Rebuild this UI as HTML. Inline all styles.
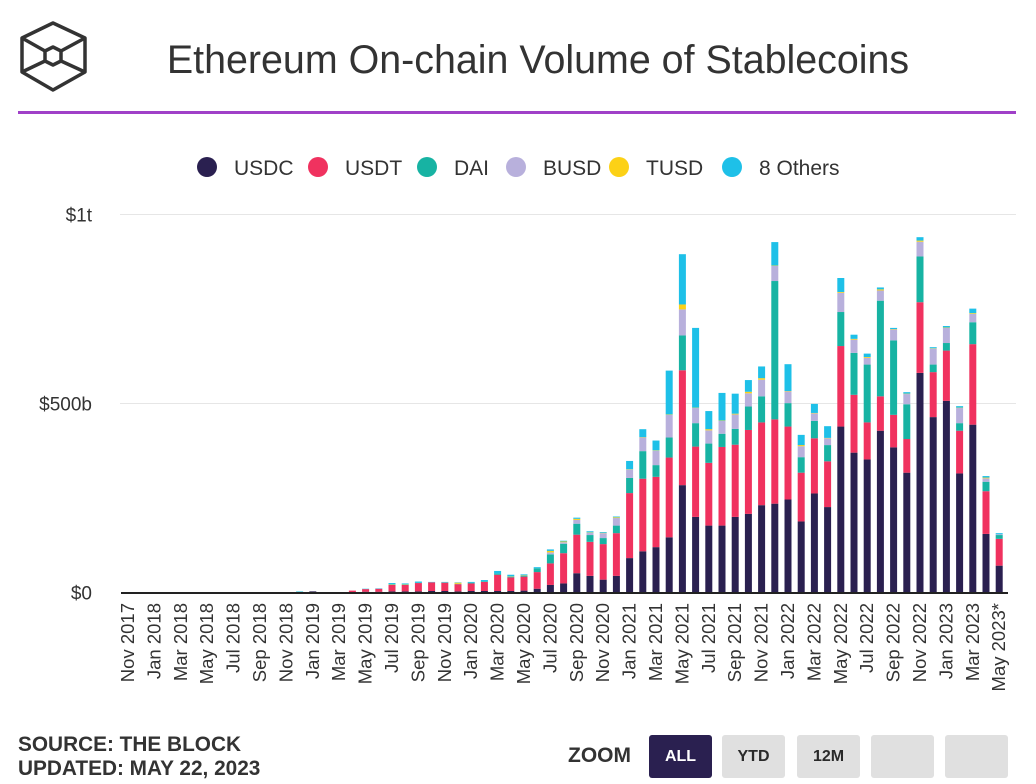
<!DOCTYPE html>
<html><head><meta charset="utf-8">
<style>
body{margin:0;width:1036px;height:784px;background:#fff;font-family:"Liberation Sans",sans-serif;overflow:hidden;position:relative}
.t{position:absolute}
.btn{position:absolute;top:735px;height:43px;width:63px;background:#e0e0e0;border-radius:3px;font-weight:bold;font-size:16px;color:#2a2a2a;display:flex;align-items:center;justify-content:center}
</style></head><body>
<svg class="t" style="left:0;top:0" width="100" height="100">
<g fill="none" stroke="#333" stroke-width="3.5" stroke-linejoin="round">
<polygon points="53,23 85,38 85,72 53,90 22,72 22,38"/>
<polygon points="53,47 61,51 61,61 53,65 45,61 45,51"/>
<line x1="22" y1="38" x2="45" y2="51"/><line x1="85" y1="38" x2="61" y2="51"/>
<line x1="22" y1="72" x2="45" y2="61"/><line x1="85" y1="72" x2="61" y2="61"/>
</g></svg>
<div class="t" style="left:0;width:1076px;top:38px;text-align:center;font-size:39.4px;color:#333">Ethereum On-chain Volume of Stablecoins</div>
<div class="t" style="left:18px;top:111px;width:998px;height:3px;background:#a040c8"></div>
<svg id="chart" class="t" style="left:0;top:0" width="1036" height="730"></svg>
<div class="t" style="left:18px;top:733px;font-size:20.8px;font-weight:bold;color:#333;line-height:24px">SOURCE: THE BLOCK<br>UPDATED: MAY 22, 2023</div>
<div class="t" style="left:568px;top:744px;font-size:21px;font-weight:bold;color:#333">ZOOM</div>
<div class="btn" style="left:649px;background:#2a2050;color:#fff">ALL</div>
<div class="btn" style="left:722px">YTD</div>
<div class="btn" style="left:797px">12M</div>
<div class="btn" style="left:871px"></div>
<div class="btn" style="left:945px"></div>
<script>
const seriesNames=["USDC","USDT","DAI","BUSD","TUSD","8 Others"];
const colors=["#2a2050","#f0325f","#17b3a3","#b8b0dc","#fcd116","#1ec0e8"];
const monthNames=["Jan","Feb","Mar","Apr","May","Jun","Jul","Aug","Sep","Oct","Nov","Dec"];
const yTicks=[0,500,1000];
const yTickLabels=["$0","$500b","$1t"];
// values in $b, Nov 2017 .. May 2023
const usdc=[0,0,0,0,0,0,0,0,0,0,0,0,0,0,3,0,0,1,2,2,3,3,3,4,4,3,4,4,4,4,5,10,20,24,51,44,34,44,91,109,120,146,284,200,177,177,200,208,231,235,246,188,262,226,439,370,352,428,384,317,581,464,507,315,444,155,71];
const usdt=[0,0,0,0,0,0,0,0,0,0,0,0,0,1,0,0,0,4,7,8,17,17,22,23,22,19,20,24,43,36,37,44,57,80,102,90,94,113,172,192,186,211,304,186,166,208,191,222,219,223,193,129,146,121,213,153,98,91,86,89,187,119,133,113,213,113,71];
const dai=[0,0,0,0,0,0,0,0,0,0,0,0,0,1,0,0,0,0,0,0,1,1,1,0,1,1,2,2,3,2,2,10,24,25,29,18,16,20,40,73,31,53,92,62,51,35,42,62,69,366,62,41,46,43,90,111,153,253,197,92,121,20,20,20,58,25,10];
const busd=[0,0,0,0,0,0,0,0,0,0,0,0,0,0,0,0,0,0,0,0,0,0,0,0,0,0,0,0,0,0,0,0,5,4,10,6,13,20,22,36,38,60,69,40,35,34,38,35,44,40,31,29,20,18,51,35,18,27,29,27,39,42,40,40,22,9,2];
const tusd=[0,0,0,0,0,0,0,0,0,0,0,0,0,0,0,0,0,0,0,0,1,1,0,0,0,3,0,0,0,1,1,0,4,2,3,1,1,2,1,1,1,1,13,1,3,1,2,4,4,1,1,3,1,1,2,2,2,3,1,1,3,1,1,1,2,2,0];
const others=[0,0,0,0,0,0,0,0,0,0,0,0,0,1,0,0,0,0,1,1,3,2,3,1,1,1,2,3,7,4,3,3,4,2,3,3,2,2,22,21,26,116,133,211,48,73,53,31,31,62,71,27,24,31,37,11,9,5,3,4,9,3,4,4,12,4,3];
const series=[usdc,usdt,dai,busd,tusd,others];
const N=usdc.length;
const NS="http://www.w3.org/2000/svg";
const svg=document.getElementById('chart');
const X0=128,DX=13.2,Y0=592.5,PPB=378/1000;
const xS=i=>X0+i*DX, yS=v=>Y0-v*PPB;
function mk(tag,attrs,parent){const e=document.createElementNS(NS,tag);for(const k in attrs)e.setAttribute(k,attrs[k]);(parent||svg).appendChild(e);return e;}
yTicks.forEach((v,k)=>{
  if(v>0){const g=mk('line',{x1:120,x2:1016,y1:yS(v),y2:yS(v),stroke:'#e6e6e6','stroke-width':1});
  
  }
  const t=mk('text',{x:92,y:yS(v)+7,'text-anchor':'end','font-size':19,fill:'#333','font-family':'Liberation Sans, sans-serif'});
  t.textContent=yTickLabels[k];
  
  
});
for(let i=0;i<N;i++){
  let acc=0;
  for(let s=0;s<series.length;s++){
    const v=series[s][i]; if(v<=0)continue;
    const r=mk('rect',{x:xS(i)-3.5,width:7,y:yS(acc+v),height:v*PPB,fill:colors[s]});
    
    
    acc+=v;
  }
}
const ax=mk('line',{x1:121,x2:1008,y1:Y0+0.5,y2:Y0+0.5,stroke:'#222','stroke-width':2});


for(let i=0;i<N;i+=2){
  const m=(10+i)%12, y=2017+Math.floor((10+i)/12);
  const lbl=monthNames[m]+' '+y+(i===N-1?'*':'');
  const t=mk('text',{transform:`translate(${xS(i)+6},603) rotate(-90)`,'text-anchor':'end','font-size':18.5,fill:'#333','font-family':'Liberation Sans, sans-serif'});
  t.textContent=lbl;
  
  
}
const legX=[207,318,427,516,619,732];
seriesNames.forEach((n,s)=>{
  const g=mk('g',{});
  
  
  mk('circle',{cx:legX[s],cy:167,r:10,fill:colors[s]},g);
  const t=mk('text',{x:legX[s]+27,y:175,'font-size':21,fill:'#333','font-family':'Liberation Sans, sans-serif'},g);
  t.textContent=n;
});
</script>
</body></html>
